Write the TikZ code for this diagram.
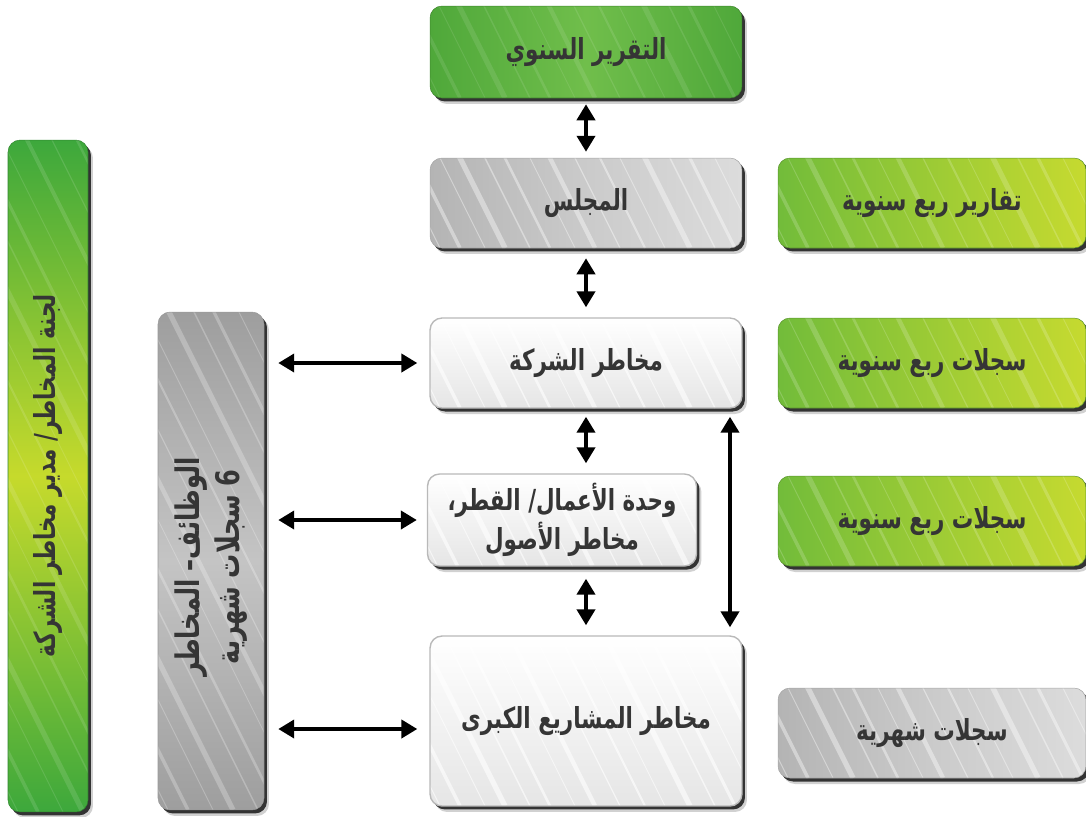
\documentclass[tikz,border=0pt]{standalone}
\usepackage{fontspec}
\usetikzlibrary{arrows.meta,shadows,calc}
\newfontfamily\arabicfont[Script=Arabic, FakeStretch=0.74]{DejaVu Sans}
\TeXXeTstate=1
\definecolor{txt}{HTML}{353535}
\definecolor{gA}{HTML}{4FA83A}
\definecolor{gB}{HTML}{70BE4B}
\definecolor{ygA}{HTML}{72BC3A}
\definecolor{ygB}{HTML}{C6DA30}
\definecolor{lgA}{HTML}{3DA83C}
\definecolor{lgB}{HTML}{C6DA2C}
\definecolor{sA}{HTML}{B4B4B4}
\definecolor{sB}{HTML}{DCDCDC}
\definecolor{fA}{HTML}{9E9E9E}
\definecolor{fB}{HTML}{C4C4C4}
\tikzset{
  labelfont/.style={font=\arabicfont\bfseries\fontsize{16.5}{22}\selectfont, text=txt},
  streaks/.style={path picture={
    \foreach \i/\w in {0.2/0.6pt,0.6/2pt,1.1/0.5pt,1.5/3pt,2.0/0.8pt,2.4/1.5pt,2.9/0.5pt,3.3/2.5pt,3.8/0.7pt,4.3/1.2pt,4.7/0.5pt,5.2/3pt,5.7/0.8pt,6.1/1.8pt,6.6/0.5pt,7.1/2.2pt,7.6/0.7pt,8.1/1.4pt,8.6/0.5pt}
      \draw[white, opacity=#1, line width=\w] ($(path picture bounding box.south west)+(\i cm,0)$) -- ++(-7cm,14cm);}},
  streaks/.default=0.3,
  basebox/.style={rounded corners=0.24cm, inner sep=2pt, align=center, labelfont,
    general shadow={shadow xshift=0.10cm, shadow yshift=-0.12cm, fill=black, opacity=0.18},
    general shadow={shadow xshift=0.06cm, shadow yshift=-0.07cm, fill=black!80, opacity=1}},
  greenbox/.style={basebox, draw=gA!80!black, line width=0.3pt, left color=gA, right color=gA, middle color=gB, streaks=0.1},
  ygbox/.style={basebox, draw=ygA!80!black, line width=0.3pt, shading angle=60, left color=ygA, right color=ygB, streaks=0.18},
  lgbox/.style={basebox, draw=lgA!80!black, line width=0.3pt, top color=lgA, bottom color=lgA, middle color=lgB, streaks=0.12},
  silverbox/.style={basebox, draw=gray!70, line width=0.3pt, left color=sA, right color=sB, middle color=sA!70!white, streaks=0.4},
  funcbox/.style={basebox, draw=gray!80, line width=0.3pt, top color=fA, bottom color=fA, middle color=fB, streaks=0.25},
  whitebox/.style={basebox, draw=gray!55, line width=0.8pt, top color=white, bottom color=gray!20, streaks=0.6},
  dblarrow/.style={{Triangle[width=0.36cm,length=0.32cm]}-{Triangle[width=0.36cm,length=0.32cm]}, line width=0.085cm, black}
}
\begin{document}
\begin{tikzpicture}[x=0.02cm,y=-0.02cm]
\useasboundingbox (0,0) rectangle (1086,816);
% center column
\node[greenbox, minimum width=6.24cm, minimum height=1.84cm] (annual) at (586,52) {\beginR التقرير السنوي\endR};
\node[silverbox, minimum width=6.24cm, minimum height=1.80cm] (board) at (586,203) {\beginR المجلس\endR};
\node[whitebox, minimum width=6.24cm, minimum height=1.80cm] (corp) at (586,363) {\beginR مخاطر الشركة\endR};
\node[whitebox, minimum width=5.38cm, minimum height=1.84cm] (bu) at (562,520) {\beginR وحدة الأعمال/ القطر،\endR\\\beginR مخاطر الأصول\endR};
\node[whitebox, minimum width=6.24cm, minimum height=3.40cm] (major) at (586,721) {\beginR مخاطر المشاريع الكبرى\endR};
% right column
\node[ygbox, minimum width=6.16cm, minimum height=1.80cm] (qrep) at (932,203) {\beginR تقارير ربع سنوية\endR};
\node[ygbox, minimum width=6.16cm, minimum height=1.80cm] (qreg1) at (932,363) {\beginR سجلات ربع سنوية\endR};
\node[ygbox, minimum width=6.16cm, minimum height=1.80cm] (qreg2) at (932,521) {\beginR سجلات ربع سنوية\endR};
\node[silverbox, minimum width=6.16cm, minimum height=1.80cm] (mreg) at (932,733) {\beginR سجلات شهرية\endR};
% left columns
\node[lgbox, minimum width=1.60cm, minimum height=13.44cm] (committee) at (48,476) {};
\node[rotate=90, labelfont] (committeetext) at (committee.center) {\beginR لجنة المخاطر/ مدير مخاطر الشركة\endR};
\node[funcbox, minimum width=2.12cm, minimum height=9.96cm] (func) at (211,561) {};
\node[rotate=90, align=center, labelfont, font=\arabicfont\bfseries\fontsize{18.5}{23}\selectfont] (functext) at ($(func.center)+(0,6)$) {\beginR الوظائف– المخاطر\endR\\\beginR 6 سجلات شهرية\endR};
% arrows
\coordinate (vx) at (730,0);
\draw[dblarrow, shorten <=0.12cm, shorten >=0.12cm] (annual.south) -- (board.north);
\draw[dblarrow, shorten <=0.2cm, shorten >=0.2cm] (board.south) -- (corp.north);
\draw[dblarrow, shorten <=0.16cm, shorten >=0.2cm] (corp.south) -- (corp.south |- bu.north);
\draw[dblarrow, shorten <=0.24cm, shorten >=0.2cm] (major.north |- bu.south) -- (major.north);
\draw[dblarrow, shorten <=0.16cm, shorten >=0.16cm] (corp.south -| vx) -- (major.north -| vx);
\draw[dblarrow, shorten <=0.28cm, shorten >=0.24cm] (func.east |- corp.west) -- (corp.west);
\draw[dblarrow, shorten <=0.28cm, shorten >=0.2cm] (func.east |- bu.west) -- (bu.west);
\draw[dblarrow, shorten <=0.28cm, shorten >=0.24cm] ($(func.east |- major.west)+(0,8)$) -- ($(major.west)+(0,8)$);
\end{tikzpicture}
\end{document}
